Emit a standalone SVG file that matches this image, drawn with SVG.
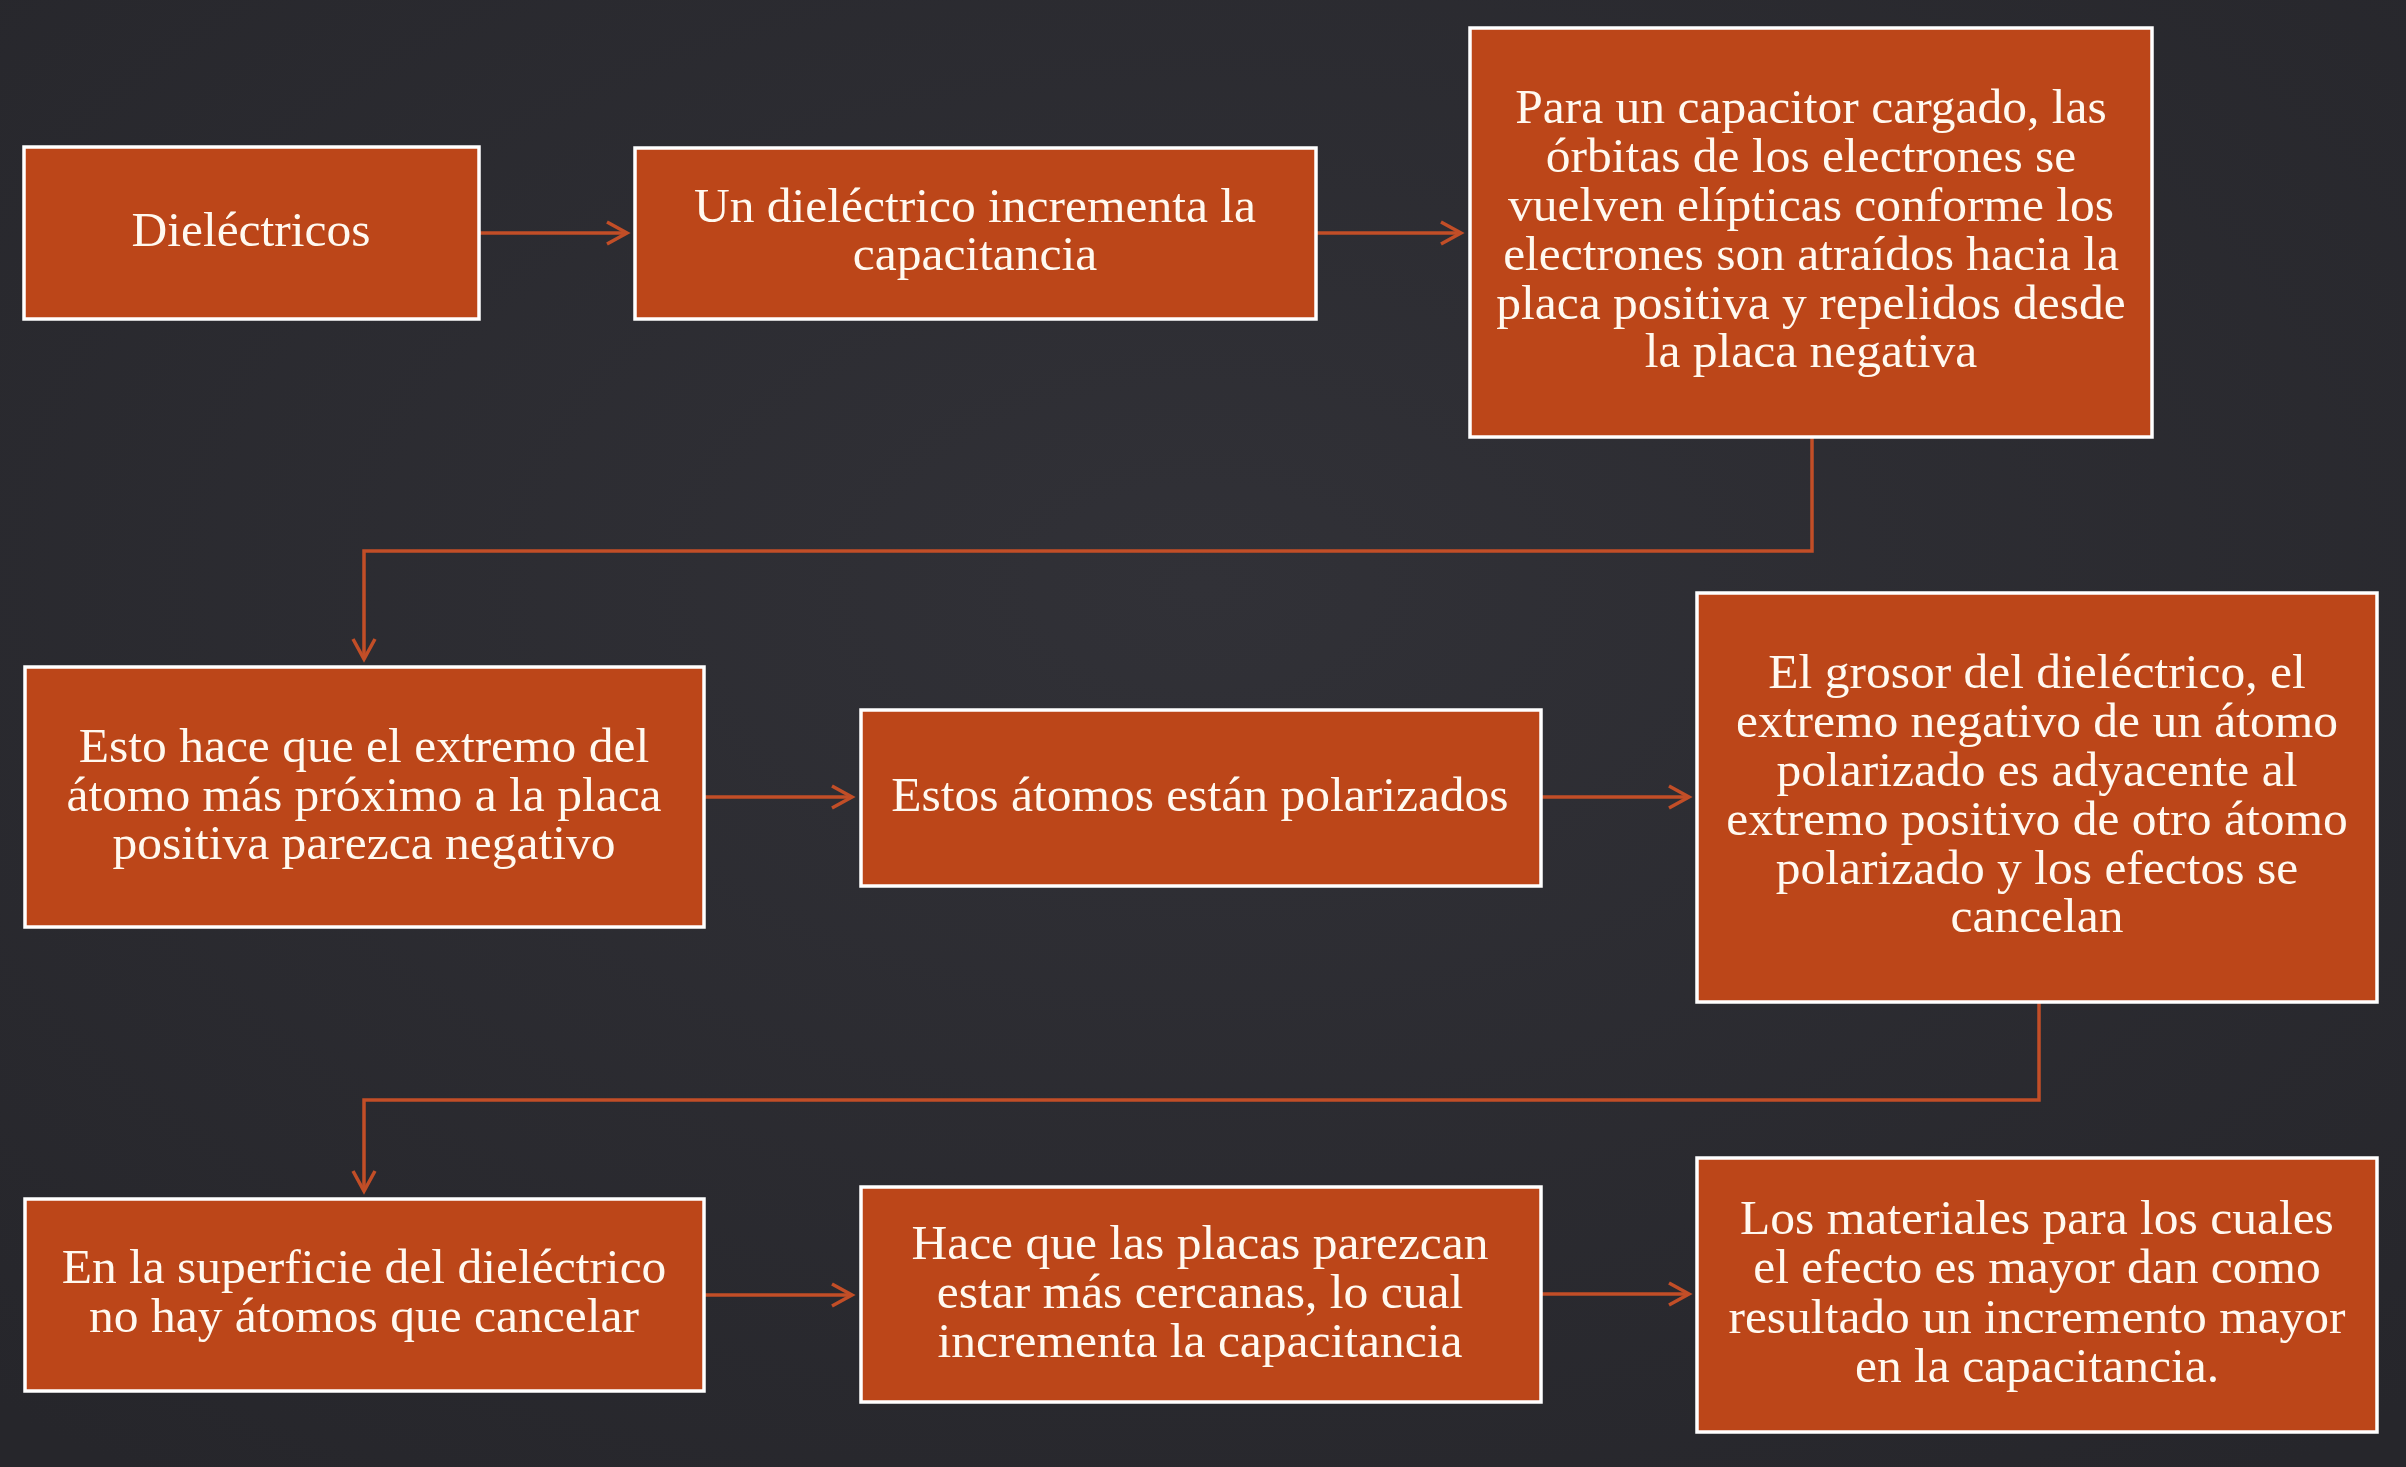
<svg xmlns="http://www.w3.org/2000/svg" width="2406" height="1467" viewBox="0 0 2406 1467">
<style>
.box{fill:#BC4619;stroke:#FFFFFF;stroke-width:3.5}
.t{font-family:"Liberation Serif","Times New Roman",serif;font-size:49.5px;fill:#FFF9F0;text-anchor:middle}
.c{fill:none;stroke:#C24E27;stroke-width:3.5}
</style>
<defs>
<marker id="ah" markerUnits="userSpaceOnUse" markerWidth="30" markerHeight="30" viewBox="0 0 30 30" refX="22" refY="15" orient="auto">
<path d="M2,4 L22,15 L2,26" fill="none" stroke="#C24E27" stroke-width="3.5"/>
</marker>
<radialGradient id="bg" cx="50%" cy="40%" r="75%">
<stop offset="0" stop-color="#313137"/>
<stop offset="1" stop-color="#26262B"/>
</radialGradient>
</defs>
<rect x="0" y="0" width="2406" height="1467" fill="url(#bg)"/>
<g id="connectors">
<path class="c" d="M479,233 L627,233" marker-end="url(#ah)"/>
<path class="c" d="M1316,233 L1461,233" marker-end="url(#ah)"/>
<path class="c" d="M1812,437 L1812,551 L364,551 L364,659" marker-end="url(#ah)"/>
<path class="c" d="M704,797 L852,797" marker-end="url(#ah)"/>
<path class="c" d="M1541,797 L1689,797" marker-end="url(#ah)"/>
<path class="c" d="M2039,1002 L2039,1100 L364,1100 L364,1191" marker-end="url(#ah)"/>
<path class="c" d="M704,1295 L852,1295" marker-end="url(#ah)"/>
<path class="c" d="M1541,1294 L1689,1294" marker-end="url(#ah)"/>
</g>
<g id="n1">
<rect class="box" x="24" y="147" width="455" height="172"/>
<text class="t" x="251" y="246">Dieléctricos</text>
</g>
<g id="n2">
<rect class="box" x="635" y="148" width="681" height="171"/>
<text class="t" x="975" y="222">Un dieléctrico incrementa la</text>
<text class="t" x="975" y="270">capacitancia</text>
</g>
<g id="n3">
<rect class="box" x="1470" y="28" width="682" height="409"/>
<text class="t" x="1811" y="123">Para un capacitor cargado, las</text>
<text class="t" x="1811" y="172">órbitas de los electrones se</text>
<text class="t" x="1811" y="221">vuelven elípticas conforme los</text>
<text class="t" x="1811" y="270">electrones son atraídos hacia la</text>
<text class="t" x="1811" y="319">placa positiva y repelidos desde</text>
<text class="t" x="1811" y="367">la placa negativa</text>
</g>
<g id="n4">
<rect class="box" x="25" y="667" width="679" height="260"/>
<text class="t" x="364" y="762">Esto hace que el extremo del</text>
<text class="t" x="364" y="811">átomo más próximo a la placa</text>
<text class="t" x="364" y="859">positiva parezca negativo</text>
</g>
<g id="n5">
<rect class="box" x="861" y="710" width="680" height="176"/>
<text class="t" x="1200" y="811">Estos átomos están polarizados</text>
</g>
<g id="n6">
<rect class="box" x="1697" y="593" width="680" height="409"/>
<text class="t" x="2037" y="688">El grosor del dieléctrico, el</text>
<text class="t" x="2037" y="737">extremo negativo de un átomo</text>
<text class="t" x="2037" y="786">polarizado es adyacente al</text>
<text class="t" x="2037" y="835">extremo positivo de otro átomo</text>
<text class="t" x="2037" y="884">polarizado y los efectos se</text>
<text class="t" x="2037" y="932">cancelan</text>
</g>
<g id="n7">
<rect class="box" x="25" y="1199" width="679" height="192"/>
<text class="t" x="364" y="1283">En la superficie del dieléctrico</text>
<text class="t" x="364" y="1332">no hay átomos que cancelar</text>
</g>
<g id="n8">
<rect class="box" x="861" y="1187" width="680" height="215"/>
<text class="t" x="1200" y="1259">Hace que las placas parezcan</text>
<text class="t" x="1200" y="1308">estar más cercanas, lo cual</text>
<text class="t" x="1200" y="1357">incrementa la capacitancia</text>
</g>
<g id="n9">
<rect class="box" x="1697" y="1158" width="680" height="274"/>
<text class="t" x="2037" y="1234">Los materiales para los cuales</text>
<text class="t" x="2037" y="1283">el efecto es mayor dan como</text>
<text class="t" x="2037" y="1333">resultado un incremento mayor</text>
<text class="t" x="2037" y="1382">en la capacitancia.</text>
</g>
</svg>
